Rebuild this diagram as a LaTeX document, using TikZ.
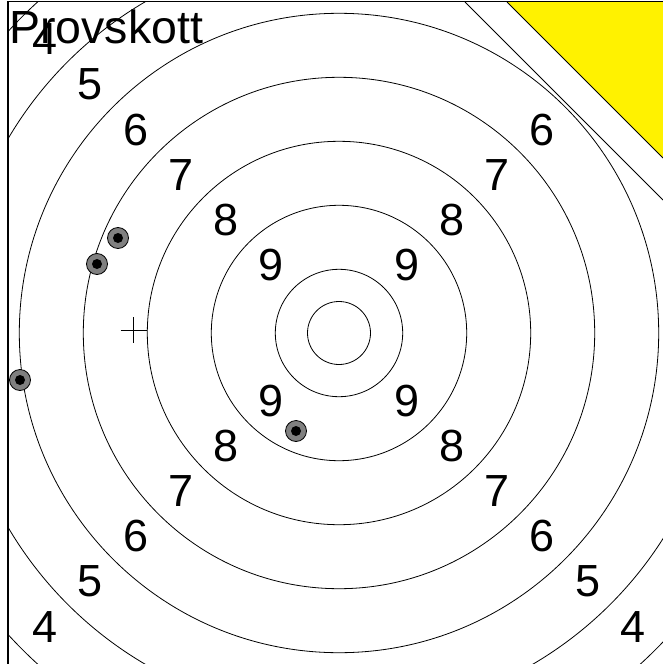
\documentclass[tikz,border=0pt]{standalone}
\usepackage{fontspec}
\setmainfont{Liberation Sans}
\usetikzlibrary{calc}
\tikzset{
  ring/.style={draw,line width=0.8pt},
  score/.style={font=\fontsize{45}{45}\selectfont,inner sep=0pt},
  shot/.style={circle,draw,line width=0.8pt,fill=black!50,minimum size=21pt,inner sep=0pt},
}
\begin{document}
\begin{tikzpicture}[x=1pt,y=-1pt,
  hole/.style={circle,fill=black,minimum size=10pt,inner sep=0pt},
  edgeline/.style={draw,line width=0.8pt}
]
\useasboundingbox (0,0) rectangle (663,664);

\coordinate (C) at (339,333);

\begin{scope}
\clip (8,1.5) rectangle (663,664);
\foreach \r in {31.5,63.7,127.7,191.7,255.7,319.7,383.7,447.7}
  \draw[ring] (C) circle[radius=\r];

\foreach \n in {9,8,7,6,5,4}{
  \pgfmathsetmacro\d{(95.7+64*(9-\n))*0.7071}
  \node[score] (tl\n) at ($(C)+(-\d,-\d)$) {\n};
  \node[score] (bl\n) at ($(C)+(-\d,\d)$) {\n};
  \node[score] (br\n) at ($(C)+(\d,\d)$) {\n};
  \ifnum\n>5 \node[score] (tr\n) at ($(C)+(\d,-\d)$) {\n};\fi
}

\coordinate (w1) at (465,2);
\coordinate (w2) at (663,200);
\coordinate (y1) at (507,2);
\coordinate (y2) at (663,158);
\fill[white] (w1) -- (w2) -- (663,0) -- (465,0) -- cycle;
\draw[edgeline] (w1) -- (w2);
\fill[yellow] (y1) -- (y2) -- (663,0) -- (507,0) -- cycle;
\draw[edgeline] (y1) -- (y2);
\end{scope}

\foreach \x/\y [count=\i] in {118/238,97/264,20/380,296/431}{
  \node[shot] (shot\i) at (\x,\y) {};
  \node[hole] (hole\i) at (shot\i) {};
}

\coordinate (mpi) at (133.5,330);
\draw[ring] ($(mpi)+(-13,0)$) -- ($(mpi)+(13,0)$)
  ($(mpi)+(0,-13)$) -- ($(mpi)+(0,13)$);

\node[score,font=\fontsize{46.5}{46.5}\selectfont,anchor=base west] (title) at (9,43) {Provskott};

\draw[line width=1.3pt] (8,664) -- (8,1.5) -- (663,1.5);
\end{tikzpicture}
\end{document}
